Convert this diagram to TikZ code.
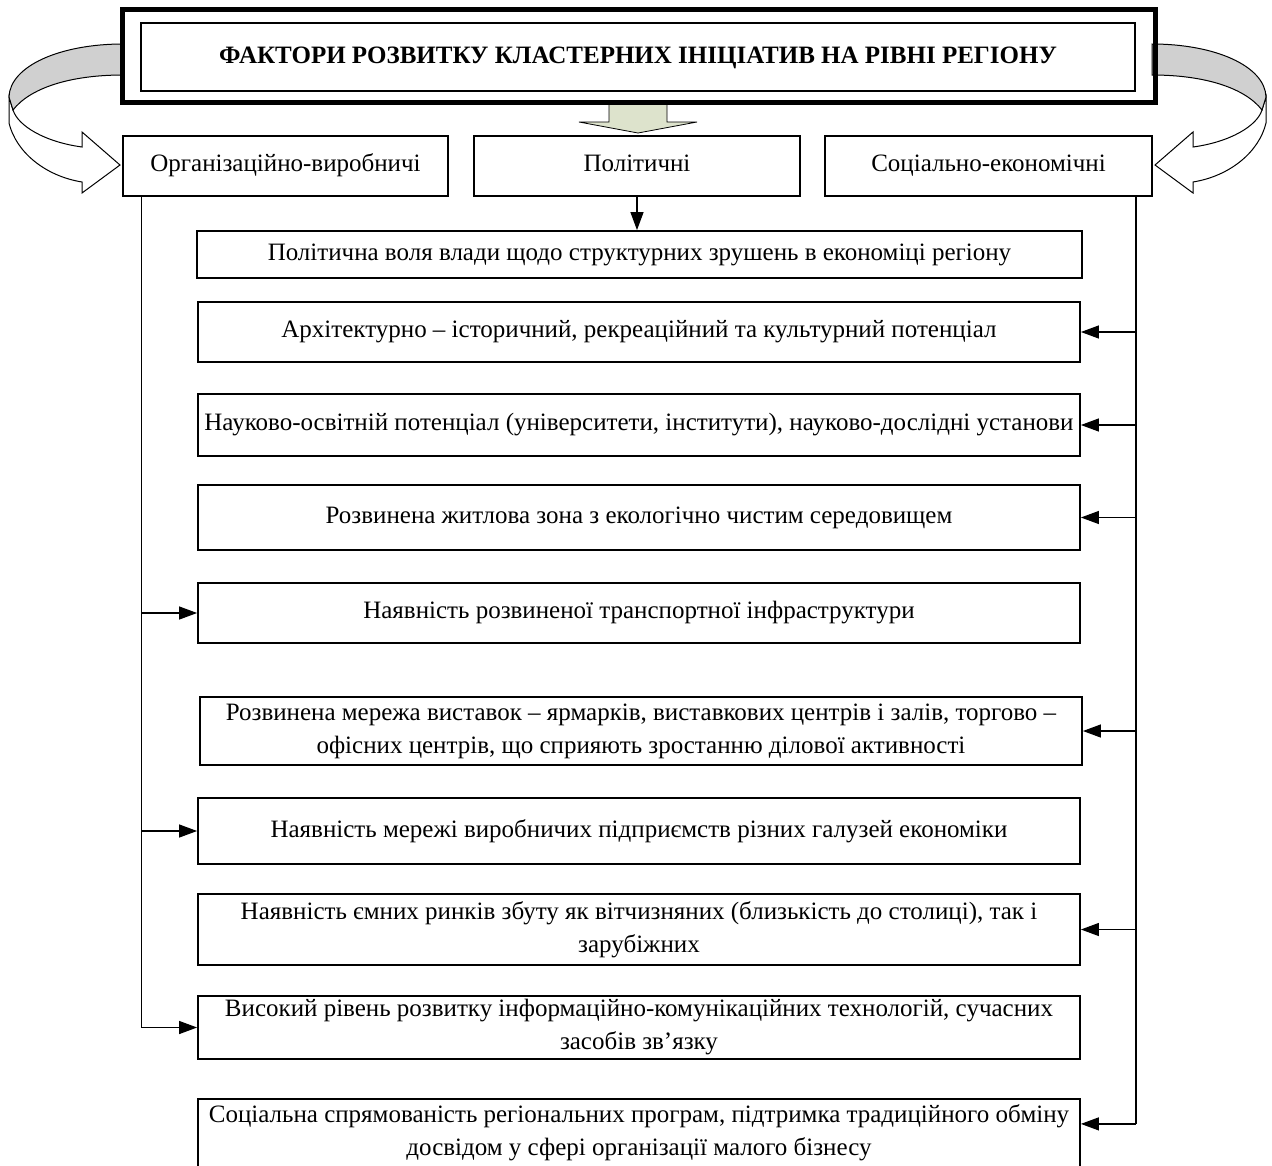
\documentclass[tikz,border=0pt]{standalone}
\usepackage{fontspec}
\setmainfont{Liberation Serif}
\usepackage{xcolor}
\usetikzlibrary{arrows.meta, calc}
\definecolor{bandgrey}{HTML}{D0D0D0}
\definecolor{olivefill}{HTML}{DDE3CC}

\begin{document}
\begin{tikzpicture}[x=1pt, y=-1pt,
    group/.style={draw, line width=1.8pt, minimum height=60pt, inner sep=2pt, text height=17pt, text depth=6pt, font=\fontsize{25}{30}\selectfont},
    factor/.style={draw, line width=1.8pt, minimum width=882pt, inner sep=2pt, align=center, font=\fontsize{25}{33}\selectfont},
    rail/.style={line width=1.2pt},
    feed/.style={line width=1.2pt, -{Triangle[length=18pt, width=13pt]}}]
    \useasboundingbox (0,0) rectangle (1272,1165);
    % curved side arrows (left one, then its mirror image)
    \foreach \m/\s in {0/1, 1275/-1} {
      \begin{scope}[xshift=\m pt, xscale=\s]
        \draw[line width=1pt, fill=white] (9,97) -- (9,123)
            .. controls (16,152) and (45,176) .. (82,182) -- (82,193) -- (120,165)
            -- (82,132) -- (82,147) .. controls (45,142) and (18,126) .. (13,110) -- cycle;
        \draw[line width=1pt, fill=bandgrey] (123,44) .. controls (60,44) and (10,66) .. (9,97)
            -- (13,110) .. controls (30,88) and (70,75) .. (123,75) -- cycle;
      \end{scope}
    }
    % block arrow under the title
    \draw[line width=0.8pt, fill=olivefill] (609,100) -- (609,122) -- (579,122) -- (638,133)
        -- (697,122) -- (667,122) -- (667,100);
    % title
    \node[draw, fill=white, line width=1.2pt, minimum width=994pt, minimum height=68pt,
          text height=17pt, text depth=4pt, font=\fontsize{25}{28}\selectfont\bfseries] (title) at (638,57)
        {ФАКТОРИ РОЗВИТКУ КЛАСТЕРНИХ ІНІЦІАТИВ НА РІВНІ РЕГІОНУ};
    \draw[line width=4.5pt] ([shift={(-18pt,13pt)}]title.north west) rectangle ([shift={(20pt,-11pt)}]title.south east);
    % factor groups
    \node[group, minimum width=325pt] (org) at (285.5,166) {Організаційно-виробничі};
    \node[group, minimum width=326pt] (pol) at (637,166) {Політичні};
    \node[group, minimum width=327pt] (soc) at (988.5,166) {Соціально-економічні};
    % factors
    \node[factor, minimum width=885pt, minimum height=47pt] (b1) at (639.5,254.5)
        {Політична воля влади щодо структурних зрушень в економіці регіону};
    \node[factor, minimum height=60pt] (b2) at (639,332)
        {Архітектурно – історичний, рекреаційний та культурний потенціал};
    \node[factor, minimum height=62pt] (b3) at (639,425)
        {Науково-освітній потенціал (університети, інститути), науково-дослідні установи};
    \node[factor, minimum height=65pt] (b4) at (639,517.5)
        {Розвинена житлова зона з екологічно чистим середовищем};
    \node[factor, minimum height=60pt] (b5) at (639,613)
        {Наявність розвиненої транспортної інфраструктури};
    \node[factor, minimum height=68pt] (b6) at (641,731)
        {Розвинена мережа виставок – ярмарків, виставкових центрів і залів, торгово –\\офісних центрів, що сприяють зростанню ділової активності};
    \node[factor, minimum height=66pt] (b7) at (639,831)
        {Наявність мережі виробничих підприємств різних галузей економіки};
    \node[factor, minimum height=71pt] (b8) at (639,929.5)
        {Наявність ємних ринків збуту як вітчизняних (близькість до столиці), так і\\зарубіжних};
    \node[factor, minimum height=63pt] (b9) at (639,1027.5)
        {Високий рівень розвитку інформаційно-комунікаційних технологій, сучасних\\засобів зв’язку};
    \node[factor, minimum height=68pt, anchor=north] (b10) at (639,1098)
        {Соціальна спрямованість регіональних програм, підтримка традиційного обміну\\досвідом у сфері організації малого бізнесу};
    % rails and feeding arrows
    \coordinate (lrail) at ([xshift=19pt]org.south west);
    \coordinate (rrail) at ([xshift=-17pt]soc.south east);
    \coordinate (b10in) at ([yshift=9pt]b10.east);
    \draw[feed] (pol.south) -- (pol.south |- b1.north);
    \draw[rail] (lrail) -- (lrail |- b9.west);
    \draw[rail] (rrail) -- (rrail |- b10in);
    \foreach \b in {b5,b7,b9}
      \draw[feed] (lrail |- \b.west) -- (\b.west);
    \foreach \b in {b2,b3,b4,b6,b8,b10in}
      \draw[feed] (rrail |- \b) -- (\b.east);
\end{tikzpicture}
\end{document}
